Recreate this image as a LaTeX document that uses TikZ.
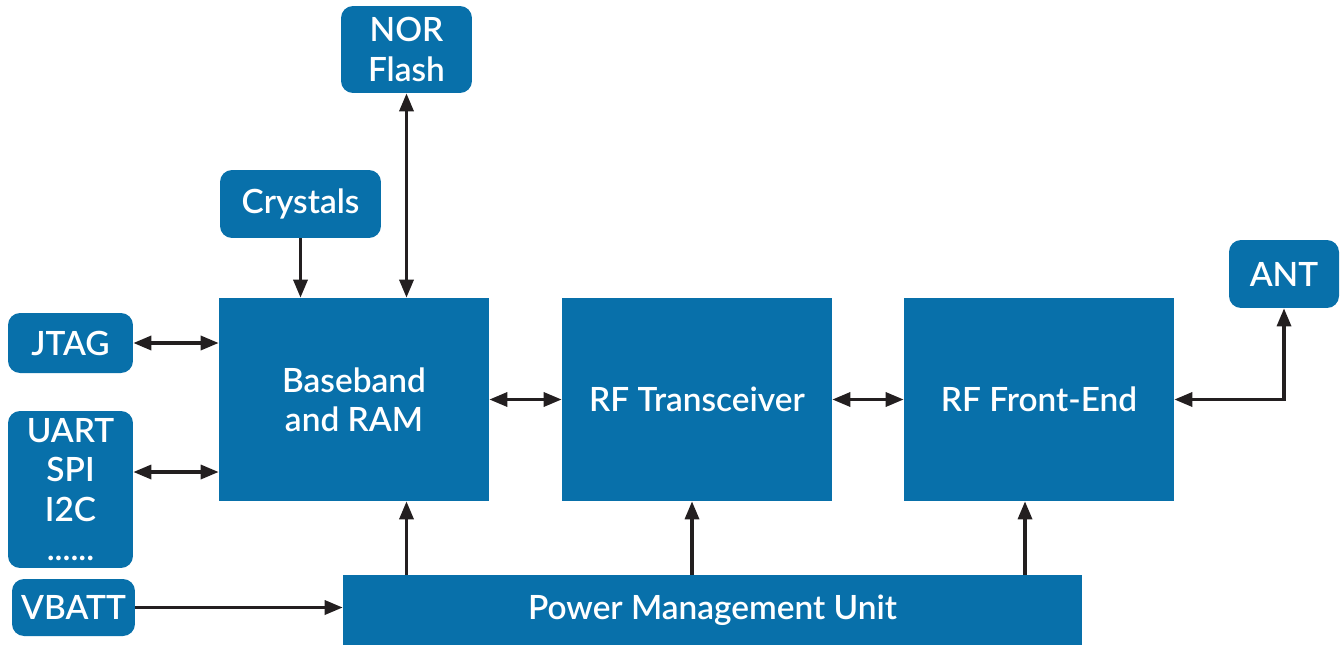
\documentclass[tikz,border=0pt]{standalone}
\usepackage{fontspec}
\setmainfont{Lato}[UprightFont=* Semibold]
\usepackage{tikz}
\usetikzlibrary{positioning,arrows.meta,calc}
\definecolor{blockblue}{HTML}{0870AA}
\definecolor{wire}{HTML}{231F20}

\begin{document}
\begin{tikzpicture}[x=0.02cm,y=-0.02cm,
    block/.style={rectangle,fill=blockblue,text=white,inner sep=0pt,align=center,
      font=\fontsize{19}{22.4}\selectfont},
    pin/.style={block,rounded corners=0.24cm},
    link/.style={{Triangle[length=3.6mm,width=2.8mm]}-{Triangle[length=3.6mm,width=2.8mm]},draw=wire,line width=1.9pt},
    feed/.style={-{Triangle[length=3.6mm,width=2.8mm]},draw=wire,line width=1.9pt}]
    \useasboundingbox (0,0) rectangle (1342,646);
    % main blocks
    \node[block,minimum width=5.4cm,minimum height=4.06cm] (BB) at (354,399.5) {Baseband\\and RAM};
    \node[block,minimum width=5.4cm,minimum height=4.06cm] (RFT) at (697,399.5) {RF Transceiver};
    \node[block,minimum width=5.4cm,minimum height=4.06cm] (FE) at (1039,399.5) {RF Front-End};
    \node[block,minimum width=14.78cm,minimum height=1.4cm] (PMU) at (712.5,610) {Power Management Unit};
    % peripherals
    \node[pin,minimum width=2.62cm,minimum height=1.74cm] (NOR) at (406.5,49.5) {NOR\\Flash};
    \node[pin,minimum width=3.22cm,minimum height=1.36cm] (XTAL) at (300.5,204) {Crystals};
    \node[pin,minimum width=2.5cm,minimum height=1.2cm] (JTAG) at (70.5,343) {JTAG};
    \node[pin,minimum width=2.5cm,minimum height=3.14cm] (IF) at (70.5,489.5) {UART\\SPI\\I2C\\......};
    \node[pin,minimum width=2.46cm,minimum height=1.14cm] (VBAT) at (73.5,607.5) {VBATT};
    \node[pin,minimum width=2.2cm,minimum height=1.36cm] (ANT) at (1284,274) {ANT};

    % buses
    \draw[link] (JTAG.east) -- (JTAG.east -| BB.west);
    \draw[link] ([yshift=0.35cm]IF.east) -- ([yshift=0.35cm]IF.east -| BB.west);
    \draw[link] (NOR.south) -- (NOR.south |- BB.north);
    \draw[feed] (XTAL.south) -- (XTAL.south |- BB.north);
    \draw[link] (BB.east) -- (RFT.west);
    \draw[link] (RFT.east) -- (FE.west);
    \draw[link] (FE.east) -- (FE.east -| ANT.south) -- (ANT.south);
    % power
    \draw[feed] (VBAT.east) -- (VBAT.east -| PMU.west);
    \draw[feed] (NOR.south |- PMU.north) -- (NOR.south |- BB.south);
    \draw[feed] ([xshift=-0.1cm]RFT.south |- PMU.north) -- ([xshift=-0.1cm]RFT.south);
    \draw[feed] ([xshift=-0.28cm]FE.south |- PMU.north) -- ([xshift=-0.28cm]FE.south);
\end{tikzpicture}
\end{document}
